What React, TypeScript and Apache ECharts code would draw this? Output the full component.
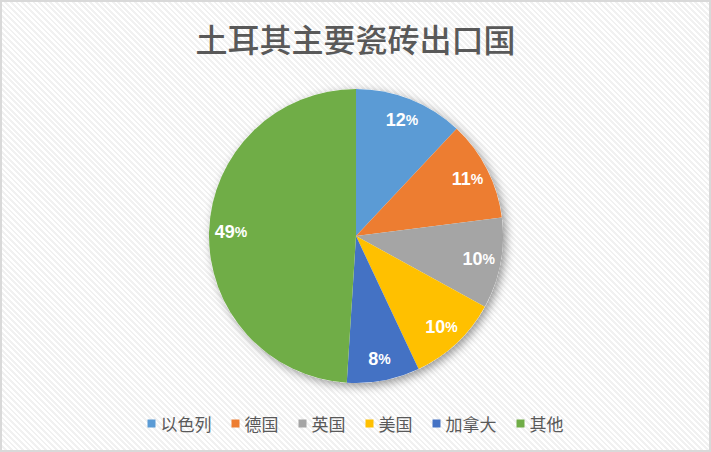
import React, { useEffect, useRef } from "react";
import * as echarts from "echarts";

const title = "土耳其主要瓷砖出口国";
const categories = ["以色列", "德国", "英国", "美国", "加拿大", "其他"];
const values = [12, 11, 10, 10, 8, 49];
const colors = ["#5B9BD5", "#ED7D31", "#A5A5A5", "#FFC000", "#4472C4", "#70AD47"];

export default function App() {
  const ref = useRef<HTMLDivElement>(null);
  useEffect(() => {
    document.body.style.margin = "0";
    if (!ref.current) return;
    const chart = echarts.init(ref.current, undefined, { renderer: "svg" });
    const cx = 354;
    const cy = 234;
    const r = 147;
    const data = categories.map((name, i) => ({ name, value: values[i] }));
    chart.setOption({
      animation: false,
      color: colors,
      title: {
        text: title,
        left: "center",
        top: 20,
        padding: 0,
        textStyle: {
          fontFamily: "Noto Sans CJK SC",
          fontSize: 32,
          fontWeight: 500,
          color: "#595959",
        },
      },
      legend: {
        data: categories,
        bottom: 18,
        left: "center",
        icon: "rect",
        itemWidth: 8,
        itemHeight: 8,
        itemGap: 20,
        padding: 0,
        textStyle: {
          fontFamily: "Noto Sans CJK SC",
          fontSize: 17,
          color: "#595959",
        },
      },
      series: [
        {
          type: "pie",
          silent: true,
          center: [cx, cy],
          radius: [0, r],
          z: 1,
          label: { show: false },
          labelLine: { show: false },
          data: [
            {
              name: "__bg",
              value: 1,
              itemStyle: {
                color: "#ffffff",
                shadowBlur: 10,
                shadowOffsetX: 3,
                shadowOffsetY: 3,
                shadowColor: "rgba(0,0,0,0.4)",
              },
            },
          ],
        },
        {
          type: "pie",
          center: [cx, cy],
          radius: [0, r],
          startAngle: 90,
          clockwise: true,
          z: 2,
          label: { show: false },
          labelLine: { show: false },
          itemStyle: { borderWidth: 0 },
          data,
        },
        {
          type: "pie",
          silent: true,
          center: [cx, cy],
          radius: [r * 0.66, r],
          startAngle: 90,
          clockwise: true,
          z: 3,
          itemStyle: { color: "transparent" },
          labelLine: { show: false },
          label: {
            show: true,
            position: "inside",
            formatter: (p: any) => `{v|${p.value}}{p|%}`,
            rich: {
              v: {
                fontFamily: "Liberation Sans",
                fontWeight: "bold",
                fontSize: 18,
                color: "#ffffff",
              },
              p: {
                fontFamily: "Liberation Sans",
                fontWeight: "bold",
                fontSize: 14,
                color: "#ffffff",
              },
            },
          },
          data: categories.map((name, i) => ({ name: name + " ", value: values[i] })),
        },
      ],
    });
    return () => chart.dispose();
  }, []);
  return (
    <div
      style={{
        width: 711,
        height: 452,
        boxSizing: "border-box",
        border: "2px solid #d9d9d9",
        background:
          "repeating-linear-gradient(45deg, #ffffff 0px, #ffffff 2px, #f1f1f1 2px, #f1f1f1 4px)",
      }}
    >
      <div ref={ref} style={{ width: 707, height: 448 }} />
    </div>
  );
}
